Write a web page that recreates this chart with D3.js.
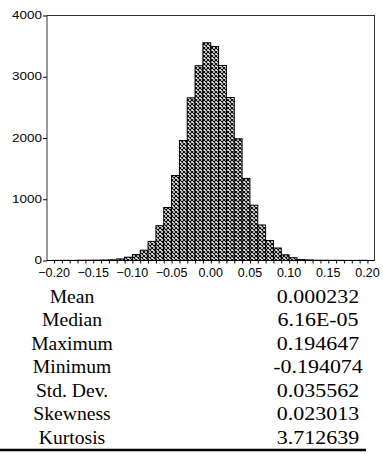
<!DOCTYPE html>
<html>
<head>
<meta charset="utf-8">
<script src="https://cdn.jsdelivr.net/npm/d3@7"></script>
<style>
  body { margin: 0; background: #fff; }
  svg { display: block; }
</style>
</head>
<body>
<div class="canvas"></div>
<script>
// histogram bins (lower edge) and counts
const binLo = [-0.20, -0.19, -0.18, -0.17, -0.16, -0.15, -0.14, -0.13, -0.12, -0.11,
               -0.10, -0.09, -0.08, -0.07, -0.06, -0.05, -0.04, -0.03, -0.02, -0.01,
                0.00,  0.01,  0.02,  0.03,  0.04,  0.05,  0.06,  0.07,  0.08,  0.09,
                0.10,  0.11,  0.12,  0.13,  0.14,  0.15,  0.16,  0.17,  0.18,  0.19];
const counts = [2, 3, 2, 4, 5, 6, 8, 11, 26, 54,
                96, 168, 312, 568, 865, 1388, 1959, 2656, 3180, 3555,
                3495, 3184, 2661, 1987, 1340, 903, 580, 327, 204, 93,
                46, 14, 10, 5, 4, 3, 3, 2, 2, 3];
const binWidth = 0.01;

const xTicks = [-0.20, -0.15, -0.10, -0.05, 0.00, 0.05, 0.10, 0.15, 0.20];
const xMinorTicks = binLo.concat([0.20]);
const yTicks = [0, 1000, 2000, 3000, 4000];

const statNames = ["Mean", "Median", "Maximum", "Minimum", "Std. Dev.", "Skewness", "Kurtosis"];
const statValues = ["0.000232", "6.16E-05", "0.194647", "-0.194074", "0.035562", "0.023013", "3.712639"];

const svg = d3.select('.canvas')
  .append('svg')
  .attr('width', 383)
  .attr('height', 454);

const x = d3.scaleLinear().domain([-0.209, 0.209]).range([47, 374.5]);
const y = d3.scaleLinear().domain([0, 4000]).range([260.5, 15.5]);

// crosshatch fill
const pat = svg.append("defs").append("pattern")
    .attr("id", "hatch")
    .attr("patternUnits", "userSpaceOnUse")
    .attr("width", 4)
    .attr("height", 4);
pat.append("rect").attr("width", 4).attr("height", 4).attr("fill", "#fff");
pat.append("path")
    .attr("d", "M0,0L4,4M4,0L0,4")
    .attr("stroke", "#000")
    .attr("stroke-width", 1.1);

// frame
svg.append("rect")
    .attr("x", x.range()[0])
    .attr("y", y.range()[1])
    .attr("width", x.range()[1] - x.range()[0])
    .attr("height", y.range()[0] - y.range()[1])
    .attr("fill", "none")
    .attr("stroke", "#333")
    .attr("stroke-width", 1);

// bars
svg.append("g")
  .selectAll("rect")
  .data(binLo)
  .join("rect")
    .attr("x", d => x(d))
    .attr("width", d => x(d + binWidth) - x(d))
    .attr("y", (d, i) => y(counts[i]))
    .attr("height", (d, i) => y(0) - y(counts[i]))
    .attr("fill", "url(#hatch)")
    .attr("stroke", "#000")
    .attr("stroke-width", 1);

// baseline
svg.append("line")
    .attr("x1", x.range()[0]).attr("x2", x.range()[1])
    .attr("y1", y(0)).attr("y2", y(0))
    .attr("stroke", "#000");

// x axis: minor ticks at bin edges, labels at 0.05
const xAxis = d3.axisBottom(x)
    .tickValues(xMinorTicks)
    .tickSize(3)
    .tickFormat("");
svg.append("g")
    .attr("transform", `translate(0,${y(0)})`)
    .call(xAxis)
    .call(g => g.select(".domain").remove())
    .call(g => g.selectAll(".tick line").attr("stroke", "#000"));

svg.append("g")
  .selectAll("text")
  .data(xTicks)
  .join("text")
    .attr("x", d => x(d))
    .attr("y", 277)
    .attr("text-anchor", "middle")
    .style("font-family", "Liberation Sans, Arial, sans-serif")
    .style("font-size", "12.5px")
    .text(d => d3.format(".2f")(d));

// y axis
const yAxis = d3.axisLeft(y)
    .tickValues(yTicks)
    .tickSize(4)
    .tickFormat("");
svg.append("g")
    .attr("transform", `translate(${x.range()[0]},0)`)
    .call(yAxis)
    .call(g => g.select(".domain").remove())
    .call(g => g.selectAll(".tick line").attr("stroke", "#000"));

svg.append("g")
  .selectAll("text")
  .data(yTicks)
  .join("text")
    .attr("transform", d => `translate(42,${y(d) + 3.6}) scale(1.35,1)`)
    .attr("text-anchor", "end")
    .style("font-family", "Liberation Sans, Arial, sans-serif")
    .style("font-size", "10px")
    .text(d => d);

// statistics table
const rowY = d3.scalePoint().domain(statNames).range([302.5, 443.5]);
const table = svg.append("g")
    .style("font-family", "Liberation Serif, 'Times New Roman', serif")
    .style("font-size", "18px");

table.selectAll("text.name")
  .data(statNames)
  .join("text")
    .attr("class", "name")
    .attr("transform", d => `translate(72,${rowY(d)}) scale(1.09,1)`)
    .attr("text-anchor", "middle")
    .text(d => d);

table.selectAll("text.val")
  .data(statValues)
  .join("text")
    .attr("class", "val")
    .attr("transform", (d, i) => `translate(318,${rowY(statNames[i])}) scale(1.22,1)`)
    .attr("text-anchor", "middle")
    .text(d => d);

svg.append("line")
    .attr("x1", 0).attr("x2", 366)
    .attr("y1", 450).attr("y2", 450)
    .attr("stroke", "#000")
    .attr("stroke-width", 2.5);
</script>
</body>
</html>
